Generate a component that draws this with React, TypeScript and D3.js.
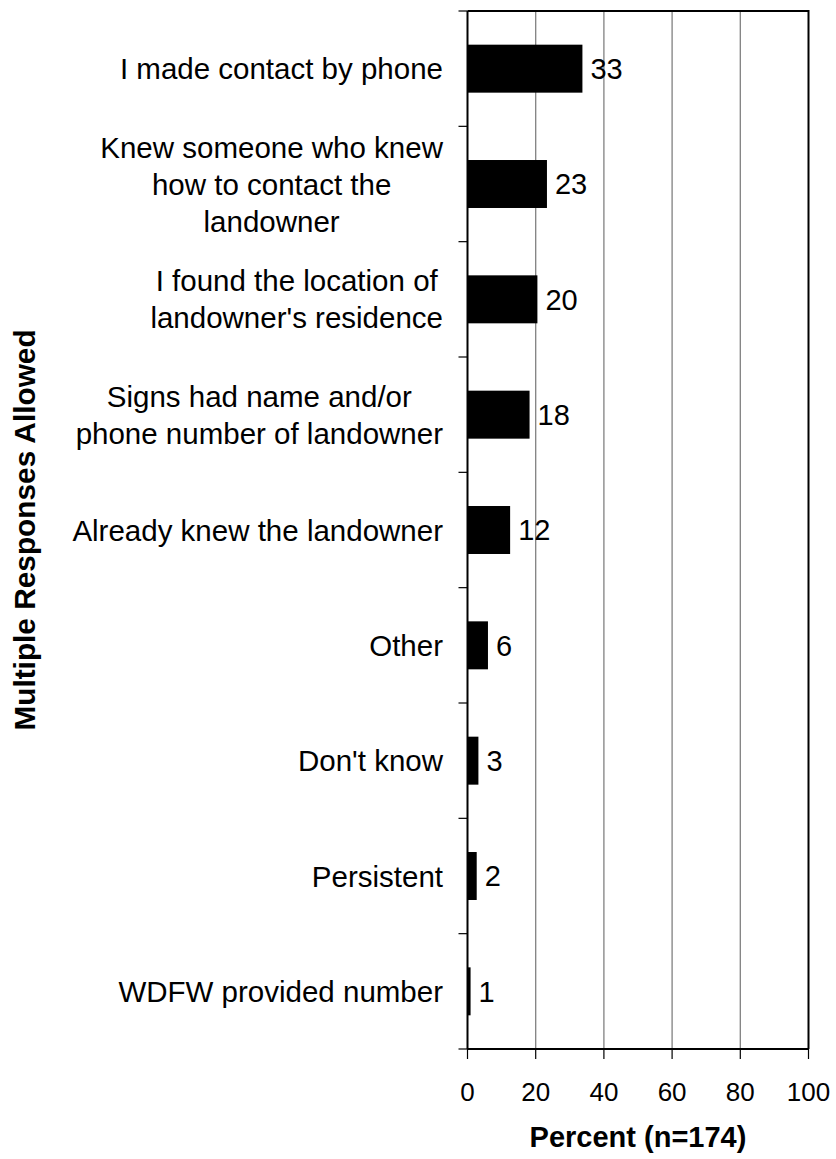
import React, { useEffect, useRef } from 'react';
import * as d3 from 'd3';

// categories, top to bottom; wrapped lines as in the original
const categories: string[][] = [
  ['I made contact by phone'],
  ['Knew someone who knew', 'how to contact the', 'landowner'],
  ['I found the location of', "landowner's residence"],
  ['Signs had name and/or', 'phone number of landowner'],
  ['Already knew the landowner'],
  ['Other'],
  ["Don't know"],
  ['Persistent'],
  ['WDFW provided number'],
];
const percents = [33.7, 23.3, 20.5, 18.2, 12.5, 6.0, 3.2, 2.7, 0.9];
const valueLabels = ['33', '23', '20', '18', '12', '6', '3', '2', '1'];
const xTicks = [0, 20, 40, 60, 80, 100];

const FONT = '"Liberation Sans", Arial, sans-serif';

export default function App() {
  const svgRef = useRef<SVGSVGElement>(null);

  useEffect(() => {
    if (!svgRef.current) return;
    const svg = d3.select(svgRef.current);
    svg.selectAll('*').remove();

    const left = 467.5, right = 808.5, top = 11, bottom = 1049;

    const x = d3.scaleLinear().domain([0, 100]).range([left, right]);
    const y = d3.scaleBand<number>()
      .domain(d3.range(categories.length))
      .range([top, bottom])
      .paddingInner(0.584)
      .paddingOuter(0.292);
    const band = (bottom - top) / categories.length;

    const g = svg.append('g').attr('font-family', FONT);

    // gridlines
    g.append('g')
      .selectAll('line')
      .data(xTicks.slice(1, -1))
      .join('line')
      .attr('x1', d => x(d)).attr('x2', d => x(d))
      .attr('y1', top).attr('y2', bottom)
      .attr('stroke', '#808080').attr('stroke-width', 1.3);

    // frame: top and right
    g.append('path')
      .attr('d', `M${left},${top}H${right}V${bottom}`)
      .attr('fill', 'none').attr('stroke', '#000').attr('stroke-width', 2);

    // bars
    g.append('g')
      .selectAll('rect')
      .data(percents)
      .join('rect')
      .attr('x', x(0))
      .attr('y', (_, i) => y(i)!)
      .attr('width', d => x(d) - x(0))
      .attr('height', y.bandwidth())
      .attr('fill', '#000');

    // value labels
    g.append('g')
      .selectAll('text')
      .data(percents)
      .join('text')
      .attr('x', d => x(d) + 8)
      .attr('y', (_, i) => y(i)! + y.bandwidth() / 2)
      .attr('dy', '0.36em')
      .attr('font-size', 29)
      .text((_, i) => valueLabels[i]);

    // left axis + ticks at band boundaries
    g.append('line')
      .attr('x1', left).attr('x2', left).attr('y1', top).attr('y2', bottom)
      .attr('stroke', '#000').attr('stroke-width', 2);
    g.append('g')
      .selectAll('line')
      .data(d3.range(categories.length + 1))
      .join('line')
      .attr('x1', left - 9).attr('x2', left)
      .attr('y1', d => top + d * band).attr('y2', d => top + d * band)
      .attr('stroke', '#000').attr('stroke-width', 1.2);

    // bottom axis
    g.append('line')
      .attr('x1', left).attr('x2', right).attr('y1', bottom).attr('y2', bottom)
      .attr('stroke', '#000').attr('stroke-width', 2);
    g.append('g')
      .selectAll('line')
      .data(xTicks)
      .join('line')
      .attr('x1', d => x(d)).attr('x2', d => x(d))
      .attr('y1', bottom).attr('y2', bottom + 10)
      .attr('stroke', '#000').attr('stroke-width', 1.2);
    g.append('g')
      .selectAll('text')
      .data(xTicks)
      .join('text')
      .attr('x', d => x(d))
      .attr('y', 1101)
      .attr('text-anchor', 'middle')
      .attr('font-size', 26)
      .text(d => d);

    // category labels, each block centred and right-aligned against the axis
    const labelRight = 443;
    const lineH = 37;
    categories.forEach((lines, i) => {
      const cy = y(i)! + y.bandwidth() / 2;
      const grp = g.append('g');
      const texts = grp.selectAll('text')
        .data(lines)
        .join('text')
        .attr('font-size', 29.5)
        .attr('text-anchor', 'middle')
        .attr('dy', '0.36em')
        .attr('y', (_, k) => cy + (k - (lines.length - 1) / 2) * lineH)
        .text(d => d);
      let maxW = 0;
      texts.each(function () {
        maxW = Math.max(maxW, (this as SVGTextElement).getComputedTextLength());
      });
      texts.attr('x', labelRight - maxW / 2);
    });

    // axis titles
    g.append('text')
      .attr('x', (left + right) / 2)
      .attr('y', 1147)
      .attr('text-anchor', 'middle')
      .attr('font-size', 29)
      .attr('font-weight', 'bold')
      .text('Percent (n=174)');

    g.append('text')
      .attr('transform', `translate(35,530) rotate(-90)`)
      .attr('text-anchor', 'middle')
      .attr('font-size', 29.8)
      .attr('font-weight', 'bold')
      .text('Multiple Responses Allowed');
  }, []);

  return (
    <svg
      ref={svgRef}
      width={836}
      height={1159}
      style={{ position: 'absolute', left: 0, top: 0, background: '#fff' }}
    />
  );
}
